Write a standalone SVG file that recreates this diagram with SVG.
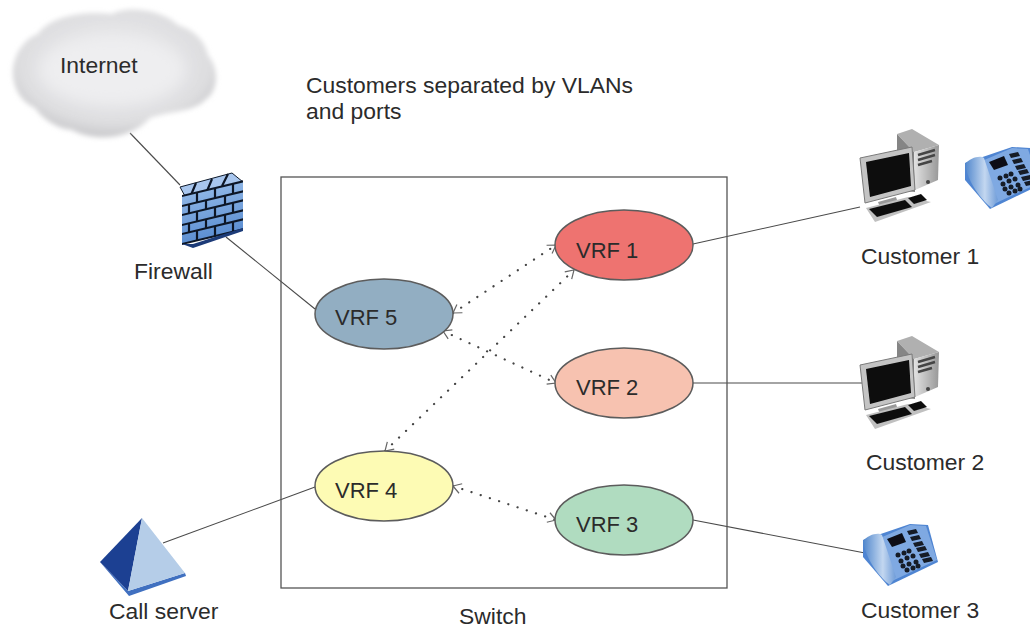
<svg xmlns="http://www.w3.org/2000/svg" width="1030" height="629" viewBox="0 0 1030 629">
<style>
text{font-family:"Liberation Sans",Arial,sans-serif;font-size:22.9px;fill:#2b2b2b}
.v{font-size:22px}
.vrf{stroke:#5c5c5c;stroke-width:1.5}
.link{stroke:#4a4a4a;stroke-width:1.1;fill:none}
.dot{stroke:#444;stroke-width:2.2;fill:none;stroke-linecap:round;stroke-dasharray:0.1 9.6;marker-start:url(#open);marker-end:url(#open)}
.key{fill:#141a26}
</style>
<defs>
<marker id="open" viewBox="0 0 12 12" refX="11" refY="6" markerWidth="12" markerHeight="12" markerUnits="userSpaceOnUse" orient="auto-start-reverse"><path d="M3 1 L11 6 L3 11" fill="none" stroke="#666" stroke-width="1.2"/></marker>
<filter id="b3" x="-20%" y="-20%" width="140%" height="140%"><feGaussianBlur stdDeviation="2.5"/></filter>
<filter id="b8" x="-30%" y="-30%" width="160%" height="160%"><feGaussianBlur stdDeviation="8"/></filter>
<filter id="s" x="-10%" y="-10%" width="120%" height="120%"><feGaussianBlur stdDeviation="0.5"/></filter>
<radialGradient id="cl" cx="0.5" cy="0.42" r="0.62"><stop offset="0" stop-color="#e8e8ea"/><stop offset="0.75" stop-color="#dedee0"/><stop offset="1" stop-color="#c2c2c5"/></radialGradient>
<linearGradient id="hs" x1="0" y1="0" x2="1" y2="0"><stop offset="0" stop-color="#4f86cc"/><stop offset="0.6" stop-color="#c3d7f0"/><stop offset="1" stop-color="#6f9cd8"/></linearGradient>
<linearGradient id="tw" x1="0" y1="0" x2="1" y2="0"><stop offset="0" stop-color="#e2e2e2"/><stop offset="1" stop-color="#989898"/></linearGradient>
<linearGradient id="br" x1="0" y1="0" x2="0" y2="1"><stop offset="0" stop-color="#8db5e6"/><stop offset="1" stop-color="#5d8fd2"/></linearGradient>
<g id="pc" filter="url(#s)">
<path d="M897 134L912 129L939 145L914 152Z" fill="#b0b0b0"/>
<path d="M897 134L914 152L915 192L897 190Z" fill="#858585"/>
<path d="M914 152L939 145L938 180L915 190Z" fill="url(#tw)"/>
<path d="M918 155L935 150M918 160L935 155M918 165L932 161" stroke="#444" stroke-width="2.4" fill="none"/>
<circle cx="928" cy="182" r="2" fill="#444"/>
<path d="M860 158L912 147L915 190L865 203Z" fill="#c4c4c4" stroke="#7a7a7a"/>
<path d="M866 162L909 153L911 186L870 197Z" fill="#0a0a0a"/>
<path d="M878 202L896 197L898 203L880 207Z" fill="#999"/>
<path d="M866 208L908 197L931 202L875 222Z" fill="#c0c0c0"/>
<path d="M869 209L905 200L912 207L877 217Z" fill="#111"/>
<path d="M908 198L921 194L927 200L914 204Z" fill="#111"/>
</g>
<g id="phone" filter="url(#s)">
<path d="M863 540L910 524L928 525L938 562L888 586L863 557Z" fill="#4f85d2"/>
<path d="M880 538L910 525L926 526L937 560L892 581Z" fill="#7fa9e2"/>
<path d="M863 541C868 535 878 532 882 535L896 577L890 585C880 578 866 560 863 541Z" fill="url(#hs)"/>
<path d="M887 539L902 533L906 542L892 547Z" fill="#0c1019"/>
<path class="key" d="M907 531L916 529L918 533L909 535ZM910 537L919 535L921 539L912 541ZM913 543L922 541L924 545L915 547ZM916 548L925 546L927 550L918 552ZM919 554L928 552L930 556L921 558ZM922 559L931 557L933 561L924 563Z"/>
<g class="key"><circle cx="898" cy="555" r="2.5"/><circle cx="904" cy="553" r="2.5"/><circle cx="909" cy="551" r="2.5"/><circle cx="901" cy="561" r="2.5"/><circle cx="907" cy="558" r="2.5"/><circle cx="913" cy="556" r="2.5"/><circle cx="903" cy="566" r="2.5"/><circle cx="909" cy="564" r="2.5"/><circle cx="916" cy="562" r="2.5"/><circle cx="907" cy="570" r="2.5"/><circle cx="913" cy="568" r="2.5"/><circle cx="918" cy="566" r="2.5"/></g>
</g>
</defs>
<rect width="1030" height="629" fill="#fff"/>
<g id="connectors">
<path class="link" d="M130 133L180 185"/>
<path class="link" d="M226 237L315 309"/>
<path class="link" d="M693 244L860 207"/>
<path class="link" d="M693 383L862 383"/>
<path class="link" d="M693 520L865 553"/>
<path class="link" d="M163 543L315 487"/>
</g>
<g id="switch"><rect x="281" y="177" width="446" height="411" fill="none" stroke="#555" stroke-width="1.3"/><text x="459" y="624">Switch</text></g>
<g id="dotted-connectors">
<path class="dot" d="M453 313L556 245"/>
<path class="dot" d="M443 331L556 383"/>
<path class="dot" d="M385 451L574 270"/>
<path class="dot" d="M453 486L556 520"/>
</g>
<g id="internet">
<path filter="url(#b3)" fill="url(#cl)" d="M13 75C12 55 25 38 38 34C48 18 80 10 112 14C125 6 160 8 178 25C195 30 205 42 208 55C220 70 218 92 205 100C195 112 165 112 150 118C130 140 95 142 72 130C55 128 42 118 35 108C22 102 14 90 13 75Z"/>
<ellipse cx="112" cy="70" rx="74" ry="36" fill="#eeeef0" filter="url(#b8)"/>
<text x="60" y="73">Internet</text>
</g>
<g id="firewall">
<g filter="url(#s)">
<path d="M180 187L232 173L243 182L186 198Z" fill="#a8c6ee" stroke="#0d1828"/>
<path d="M196 183L191 195M212 179L207 191M228 174L222 186" stroke="#0d1828" stroke-width="2.2" fill="none"/>
<g transform="matrix(1,-0.24,0,1,182,196)">
<rect width="61" height="48" fill="url(#br)"/>
<path d="M0 0H61M0 10H61M0 19H61M0 29H61M0 38H61M0 48H61" stroke="#0d1828" stroke-width="2.2"/>
<path d="M15 0V10M33 0V10M51 0V10M7 10V19M24 10V19M43 10V19M15 19V29M33 19V29M51 19V29M7 29V38M24 29V38M43 29V38M15 38V48M33 38V48M51 38V48" stroke="#0d1828" stroke-width="2.2"/>
</g>
<path d="M182 244L193 248L243 231L243 228L193 244Z" fill="#1b3a78"/>
</g>
<text x="134" y="279">Firewall</text>
</g>
<g id="vrf1"><ellipse class="vrf" cx="624" cy="245" rx="69" ry="35" fill="#ee7370"/><text class="v" x="576" y="258">VRF 1</text></g>
<g id="vrf2"><ellipse class="vrf" cx="624" cy="383" rx="69" ry="35" fill="#f7c2b0"/><text class="v" x="576" y="395">VRF 2</text></g>
<g id="vrf3"><ellipse class="vrf" cx="624" cy="520" rx="69" ry="35" fill="#b0dcc0"/><text class="v" x="576" y="532">VRF 3</text></g>
<g id="vrf4"><ellipse class="vrf" cx="384" cy="486" rx="69" ry="35" fill="#fdfbb4"/><text class="v" x="335" y="498">VRF 4</text></g>
<g id="vrf5"><ellipse class="vrf" cx="384" cy="314" rx="69" ry="35" fill="#92aec2"/><text class="v" x="335" y="325">VRF 5</text></g>
<g id="call-server">
<g filter="url(#s)">
<path d="M100 562L128 591L185 573L186 576L129 596Z" fill="#3f6fc0"/>
<path d="M142 518L100 562L128 591Z" fill="#1d4192"/>
<path d="M142 518L185 573L128 591Z" fill="#b5cde8"/>
</g>
<text x="109" y="619">Call server</text>
</g>
<g id="customer-1"><use href="#pc"/><use href="#phone" transform="translate(102,-377)"/><text x="861" y="264">Customer 1</text></g>
<g id="customer-2"><use href="#pc" transform="translate(0,207)"/><text x="866" y="470">Customer 2</text></g>
<g id="customer-3"><use href="#phone"/><text x="861" y="618">Customer 3</text></g>
<g id="note"><text x="306" y="93">Customers separated by VLANs</text><text x="306" y="119">and ports</text></g>
</svg>
